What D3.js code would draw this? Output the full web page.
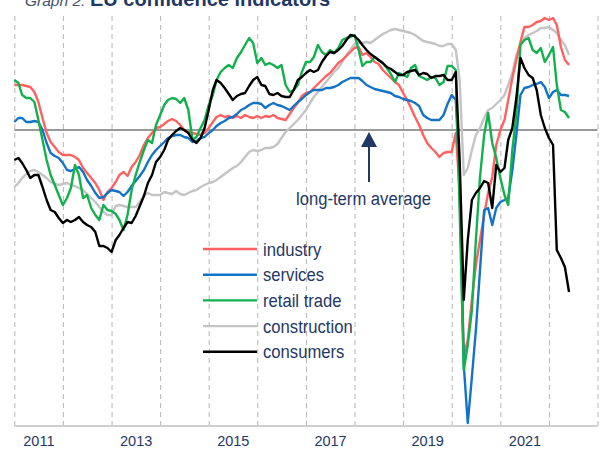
<!DOCTYPE html>
<html>
<head>
<meta charset="utf-8">
<script src="https://cdn.jsdelivr.net/npm/d3@7"></script>
<style>
  body { margin: 0; background: #fff; }
  svg { display: block; font-family: "Liberation Sans", Arial, sans-serif; }
</style>
</head>
<body>
<div id="chart"></div>
<script>
var width = 600
var height = 450

// monthly, Jan 2011 .. Jun 2022, deviation from long-term average
var industry = [
  4.5, 4.5, 4.5, 4.4, 4.3, 3.8, 2.8, 1.2, -0.3, -1.2, -1.7, -2.2,
  -2.5, -2.5, -2.5, -2.7, -3.0, -3.8, -4.3, -4.8, -5.3, -6.0, -7.0, -6.2,
  -5.8, -5.2, -4.5, -4.2, -4.6, -3.7, -3.2, -2.5, -1.5, -0.8, -0.3, 0.2,
  0.3, 0.6, 0.9, 1.1, 0.9, 0.5, 0.0, -0.2, -0.3, -0.4, -0.5, -0.3,
  0.2, 0.8, 1.3, 1.5, 1.3, 1.4, 1.2, 1.4, 1.2, 1.5, 1.3, 1.2,
  1.4, 1.2, 1.4, 1.3, 1.5, 1.2, 1.1, 1.0, 1.6, 2.2, 2.7, 3.4,
  3.7, 3.8, 4.2, 4.6, 5.0, 5.4, 5.7, 6.2, 6.7, 7.0, 7.4, 7.8,
  8.2, 8.3, 7.5, 7.7, 7.3, 6.8, 6.6, 6.0, 5.6, 5.2, 4.8, 4.5,
  3.7, 3.0, 2.2, 1.3, 0.5, -0.5, -1.3, -1.8, -2.2, -2.7, -2.3, -2.2,
  -2.2, -0.3, -6.0, -22.5, -21.0, -17.0, -13.5, -11.0, -8.5, -6.3, -4.7, -1.5,
  0.0, 1.0, 3.0, 5.2, 7.0, 8.8, 10.3, 10.3, 10.5, 10.8, 10.9, 11.2,
  11.0, 11.2, 10.5, 8.3, 7.0, 6.5
]

var services = [
  0.8, 1.2, 1.2, 0.8, 0.8, 0.9, 0.8, 0.0, -1.3, -2.3, -2.6, -2.8,
  -3.3, -4.0, -4.1, -3.9, -3.7, -4.2, -5.0, -5.6, -6.3, -6.8, -6.7, -6.3,
  -6.0, -6.1, -6.2, -6.6, -6.2, -5.6, -5.1, -4.6, -4.0, -3.2, -2.5, -2.0,
  -1.6, -1.2, -0.8, -0.6, -0.5, -0.5, -0.7, -0.8, -1.2, -1.1, -0.8, -0.7,
  -0.3, 0.0, 0.4, 0.7, 0.9, 1.2, 1.3, 1.6, 2.0, 2.2, 2.5, 2.7,
  2.7, 2.6, 2.2, 2.5, 2.7, 2.5, 2.4, 2.2, 2.0, 2.4, 2.8, 3.1,
  3.5, 3.8, 4.0, 4.0, 4.0, 4.2, 4.2, 4.3, 4.5, 4.8, 5.0, 5.2,
  5.2, 5.2, 4.9, 4.5, 4.3, 4.1, 4.0, 3.9, 3.8, 3.7, 3.4, 3.3,
  3.1, 3.0, 2.9, 2.7, 2.4, 1.5, 1.2, 1.0, 1.0, 1.0, 1.5, 2.6,
  3.5, 3.0, -5.0, -23.5, -29.3, -24.7, -20.0, -14.0, -8.0, -7.8, -9.5, -7.8,
  -7.2, -7.0, -6.8, -4.0, -0.5, 3.5, 4.2, 4.3, 4.5, 4.6, 4.8, 4.3,
  3.2, 3.8, 4.0, 3.5, 3.5, 3.4
]

var retail = [
  5.0, 4.7, 3.5, 3.2, 3.2, 2.8, 1.0, -1.0, -3.0, -4.5, -5.5, -6.5,
  -7.5, -6.8, -5.8, -3.5, -4.5, -6.8, -6.5, -7.8, -8.5, -9.0, -7.5, -8.0,
  -8.1, -8.4, -9.0, -10.0, -8.5, -6.0, -4.5, -3.2, -2.0, -1.0, -1.3, 0.5,
  1.5, 2.5, 3.0, 3.2, 3.1, 2.7, 3.2, 2.0, -1.0, -0.7, 0.2, 1.0,
  2.5, 3.5, 5.0, 5.8, 6.2, 6.5, 6.2, 7.2, 7.8, 8.5, 9.2, 8.7,
  6.7, 7.2, 6.5, 6.7, 6.5, 6.2, 6.5, 4.5, 3.8, 4.0, 4.5, 5.8,
  6.8, 6.8, 7.3, 8.5, 7.8, 7.5, 8.0, 7.7, 8.2, 9.0, 9.2, 9.3,
  9.5, 8.0, 6.4, 6.8, 6.8, 7.3, 7.0, 6.7, 6.2, 5.6, 4.8, 5.7,
  5.5, 5.3, 6.2, 6.5, 5.4, 5.2, 5.0, 5.3, 5.2, 4.5, 4.8, 6.4,
  6.4, 6.0, -8.0, -24.0, -21.5, -18.0, -11.0, -4.7, -0.5, 1.7, -1.3, -2.8,
  -4.8, -6.5, -7.5, -2.0, 1.5, 8.5, 9.0, 9.2, 8.0, 7.7, 8.2, 6.8,
  7.5, 8.3, 4.5, 2.0, 1.8, 1.2
]

var construction = [
  -5.7, -5.3, -4.8, -4.4, -4.1, -4.0, -4.2, -4.5, -4.8, -5.2, -5.4, -5.5,
  -5.4, -5.3, -5.5, -5.6, -5.8, -6.0, -6.4, -6.8, -7.2, -7.7, -8.2, -8.5,
  -8.5, -7.6, -7.5, -7.6, -7.7, -7.7, -7.7, -7.2, -6.6, -6.3, -6.5, -6.5,
  -6.5, -6.2, -6.3, -6.4, -6.1, -6.4, -6.5, -6.3, -6.1, -6.0, -5.7, -5.5,
  -5.3, -5.2, -5.0, -4.7, -4.4, -4.1, -3.8, -3.6, -3.2, -2.7, -2.2, -2.0,
  -2.1, -2.0, -1.8, -1.8, -1.7, -1.4, -0.8, -0.2, 0.2, 0.6, 1.0, 1.5,
  2.0, 2.7, 3.3, 3.8, 4.3, 4.8, 5.3, 5.8, 6.2, 6.8, 7.5, 8.0,
  8.6, 8.7, 8.7, 8.8, 8.7, 9.0, 9.3, 9.6, 9.8, 10.0, 10.1, 10.0,
  9.9, 9.8, 9.7, 9.5, 9.2, 8.9, 8.8, 8.7, 8.6, 8.4, 8.4, 8.6,
  8.6, 8.0, 5.0, -4.5, -3.8, -2.0, -0.5, 0.2, 1.2, 2.0, 2.2, 2.6,
  3.0, 3.5, 4.5, 5.7, 7.5, 8.5, 9.2, 9.5, 9.7, 9.9, 10.2, 10.2,
  10.3, 10.0, 9.7, 9.0, 8.5, 7.5
]

var consumers = [
  -3.0, -2.8, -3.3, -4.0, -4.8, -4.5, -4.5, -5.7, -7.0, -8.0, -8.2, -8.8,
  -9.3, -9.0, -9.2, -9.0, -8.7, -9.2, -9.5, -9.7, -10.2, -11.6, -11.6, -11.8,
  -12.2, -11.0, -10.5, -9.8, -9.2, -9.3, -8.6, -7.6, -6.6, -5.3, -4.5, -3.2,
  -2.7, -2.0, -1.0, -0.5, -0.1, 0.2, 0.0, -0.3, -1.0, -1.3, -0.8, 0.2,
  2.0, 4.0, 5.0, 4.7, 4.2, 3.6, 3.0, 3.4, 3.6, 3.7, 4.4, 5.0,
  5.3, 4.5, 4.4, 3.6, 3.5, 3.7, 3.4, 3.3, 3.3, 4.0, 5.0, 5.3,
  5.7, 6.0, 5.8, 6.0, 6.8, 7.4, 7.8, 7.7, 8.0, 8.4, 9.0, 9.5,
  9.4, 9.0, 8.5, 8.0, 7.6, 7.3, 7.0, 6.7, 6.3, 6.1, 5.8, 5.5,
  5.5, 5.8, 5.9, 6.0, 5.5, 5.7, 5.6, 5.2, 5.4, 5.4, 5.5, 5.0,
  5.0, 5.8, -3.0, -17.0, -11.0, -7.0, -6.3, -5.8, -5.1, -5.3, -7.8, -3.5,
  -4.2, -3.8, -1.0, 0.2, 3.2, 7.2, 6.2, 5.5, 5.2, 4.0, 1.5, 0.2,
  -0.8, -1.5, -12.0, -12.8, -13.7, -16.2
]

var seriesNames = ['industry', 'services', 'retail trade', 'construction', 'consumers']
var yearLabels = ['2011', '2013', '2015', '2017', '2019', '2021']

var seriesValues = [industry, services, retail, construction, consumers]
var seriesColors = ['#ff6161', '#1373c6', '#13b04e', '#c4c4c4', '#000000']
var drawOrder = [3, 0, 1, 2, 4]
var navy = '#1f3864'

var svg = d3.select('#chart').append('svg')
  .attr('width', width)
  .attr('height', height)

var x = d3.scaleTime()
  .domain([new Date(2011, 0, 1), new Date(2023, 0, 1)])
  .range([14.3, 597.5])

var y = d3.scaleLinear()
  .domain([-29.6, 12])
  .range([426, 10])

// title, mostly clipped at the top edge
var title = svg.append('text').attr('y', 6)
title.append('tspan')
  .attr('x', 25)
  .attr('font-style', 'italic')
  .attr('font-size', 15.5)
  .attr('fill', '#44546a')
  .text('Graph 2:')
title.append('tspan')
  .attr('x', 90)
  .attr('font-weight', 'bold')
  .attr('font-size', 20)
  .attr('fill', navy)
  .text('EU confidence indicators')

// dashed year grid
var grid = svg.append('g')
  .attr('transform', 'translate(0,426)')
  .call(d3.axisBottom(x)
    .ticks(d3.timeYear.every(1))
    .tickSize(-414)
    .tickFormat(''))
grid.select('.domain').remove()
grid.selectAll('.tick line')
  .attr('stroke', '#b5b5b5')
  .attr('stroke-dasharray', '5,4')

// bottom axis line
svg.append('line')
  .attr('x1', x.range()[0]).attr('x2', x.range()[1])
  .attr('y1', 426).attr('y2', 426)
  .attr('stroke', '#cfcfcf')
  .attr('stroke-width', 2)

// year labels centred in each odd year
var labels = svg.append('g')
  .attr('transform', 'translate(0,426)')
  .call(d3.axisBottom(x)
    .tickValues(yearLabels.map(d => new Date(+d, 6, 1)))
    .tickFormat(d3.timeFormat('%Y'))
    .tickSize(0)
    .tickPadding(10))
labels.select('.domain').remove()
labels.selectAll('text')
  .attr('font-family', '"Liberation Sans", Arial, sans-serif')
  .attr('font-size', 14.5)
  .attr('fill', navy)

// long-term average
svg.append('line')
  .attr('x1', x.range()[0]).attr('x2', x.range()[1])
  .attr('y1', y(0)).attr('y2', y(0))
  .attr('stroke', '#9a9a9a')
  .attr('stroke-width', 2)

var line = d3.line()
  .x((d, i) => x(d3.timeMonth.offset(new Date(2011, 0, 1), i)))
  .y(d => y(d))

svg.append('g')
  .selectAll('path')
  .data(drawOrder)
  .enter()
  .append('path')
  .attr('d', k => line(seriesValues[k]))
  .attr('fill', 'none')
  .attr('stroke', k => seriesColors[k])
  .attr('stroke-width', 2.4)
  .attr('stroke-linejoin', 'round')

// arrow + annotation
var ax = 369
svg.append('line')
  .attr('x1', ax).attr('x2', ax)
  .attr('y1', 182).attr('y2', 146)
  .attr('stroke', navy)
  .attr('stroke-width', 2)
svg.append('path')
  .attr('d', `M${ax - 8},147 L${ax + 8},147 L${ax},132 Z`)
  .attr('fill', navy)
svg.append('text')
  .attr('transform', 'translate(296,205) scale(0.9,1)')
  .attr('font-size', 18.5)
  .attr('fill', navy)
  .text('long-term average')

// legend
var legend = svg.append('g')
  .selectAll('g')
  .data(seriesNames)
  .enter()
  .append('g')
  .attr('transform', (d, i) => `translate(203, ${249 + i * 25.7})`)

legend.append('line')
  .attr('x1', 0).attr('x2', 54)
  .attr('stroke', (d, i) => seriesColors[i])
  .attr('stroke-width', 2.4)

legend.append('text')
  .attr('transform', 'translate(60,6.5) scale(0.9,1)')
  .attr('font-size', 18.5)
  .attr('fill', navy)
  .text(d => d)
</script>
</body>
</html>
